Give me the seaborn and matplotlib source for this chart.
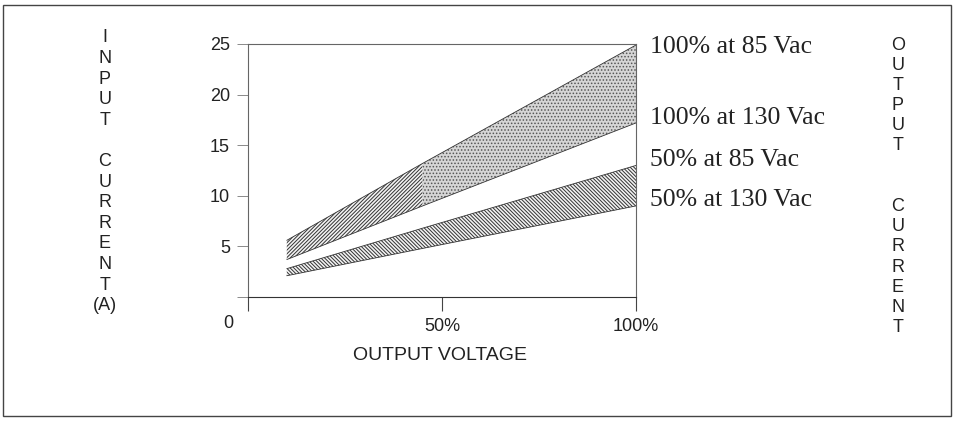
import matplotlib
matplotlib.use('Agg')
import matplotlib.pyplot as plt
import seaborn as sns
import pandas as pd
from matplotlib.patches import Rectangle

# output voltage (% of rated) and input current (A)
output_voltage = [10, 45, 100]
i_100_85 = [5.6, 13.2, 24.9]
i_100_130 = [3.7, 9.0, 17.2]
i_50_85 = [2.8, 6.8, 13.0]
i_50_130 = [2.1, 4.8, 9.0]

curve_names = ['100% at 85 Vac', '100% at 130 Vac', '50% at 85 Vac', '50% at 130 Vac']
x_ticks = [0, 50, 100]
x_tick_labels = ['', '50%', '100%']
y_ticks = [0, 5, 10, 15, 20, 25]
y_tick_labels = ['', '5', '10', '15', '20', '25']
left_letters = ['I', 'N', 'P', 'U', 'T', '', 'C', 'U', 'R', 'R', 'E', 'N', 'T', '(A)']
right_letters = ['O', 'U', 'T', 'P', 'U', 'T', '', '', 'C', 'U', 'R', 'R', 'E', 'N', 'T']

sns.set_style('white')
plt.rcParams['font.family'] = ['Liberation Sans', 'DejaVu Sans']
plt.rcParams['hatch.linewidth'] = 0.7

df = pd.DataFrame({
    'x': output_voltage * 4,
    'current': i_100_85 + i_100_130 + i_50_85 + i_50_130,
    'curve': [c for c in curve_names for _ in output_voltage],
})

W, H = 954, 424
fig = plt.figure(figsize=(W / 100, H / 100), dpi=100)
ax = fig.add_axes([248 / W, 1 - 297 / H, (636 - 248) / W, (297 - 44) / H])

# bands
ax.fill_between(output_voltage[:2], i_100_130[:2], i_100_85[:2], facecolor='#f2f2f2',
                edgecolor='#333333', hatch='/////////', linewidth=0)
ax.fill_between(output_voltage[1:], i_100_130[1:], i_100_85[1:], facecolor='#d6d6d6',
                edgecolor='#555555', hatch='.....', linewidth=0)
ax.fill_between(output_voltage, i_50_130, i_50_85, facecolor='#f2f2f2',
                edgecolor='#333333', hatch='\\\\\\\\\\\\\\\\\\', linewidth=0)

sns.lineplot(data=df, x='x', y='current', hue='curve', palette=['#333333'] * 4,
             legend=False, linewidth=0.6, ax=ax)

ax.set_xlim(0, 100)
ax.set_ylim(0, 25)
ax.set_xticks(x_ticks)
ax.set_xticklabels(x_tick_labels)
ax.set_yticks(y_ticks)
ax.set_yticklabels(y_tick_labels)
ax.set_xlabel('')
ax.set_ylabel('')
ax.tick_params(axis='x', direction='out', length=10, width=0.8, color='#444', pad=5,
               labelsize=13, bottom=True, labelcolor='#222')
ax.tick_params(axis='y', direction='out', length=8, width=0.6, color='#777', pad=5,
               labelsize=13, left=True, labelcolor='#222')
for s in ax.spines.values():
    s.set_visible(True)
    s.set_color('#666')
    s.set_linewidth(0.8)
ax.spines['bottom'].set_color('#333')

fig.text(228 / W, 1 - 323 / H, '0', ha='center', va='center', fontsize=13, color='#222')
fig.text(440 / W, 1 - 355 / H, 'OUTPUT VOLTAGE', ha='center', va='center', fontsize=14,
         color='#222')

# curve labels on the right
for name, yp in zip(curve_names, [47, 118, 160, 200]):
    fig.text(650 / W, 1 - yp / H, name, ha='left', va='center', fontsize=18.5,
             family=['Liberation Serif', 'DejaVu Serif'], color='#222')

# stacked vertical axis titles
for i, ch in enumerate(left_letters):
    fig.text(105 / W, 1 - (38 + i * 20.6) / H, ch, ha='center', va='center', fontsize=13,
             color='#222')
for i, ch in enumerate(right_letters):
    fig.text(898 / W, 1 - (45 + i * 20.2) / H, ch, ha='center', va='center', fontsize=13,
             color='#222')

# frame around the whole figure
fig.patches.append(Rectangle((3 / W, 1 - 416 / H), 948 / W, 411 / H, transform=fig.transFigure,
                             fill=False, edgecolor='#444', linewidth=1.0))

fig.savefig('out.png', dpi=100)
